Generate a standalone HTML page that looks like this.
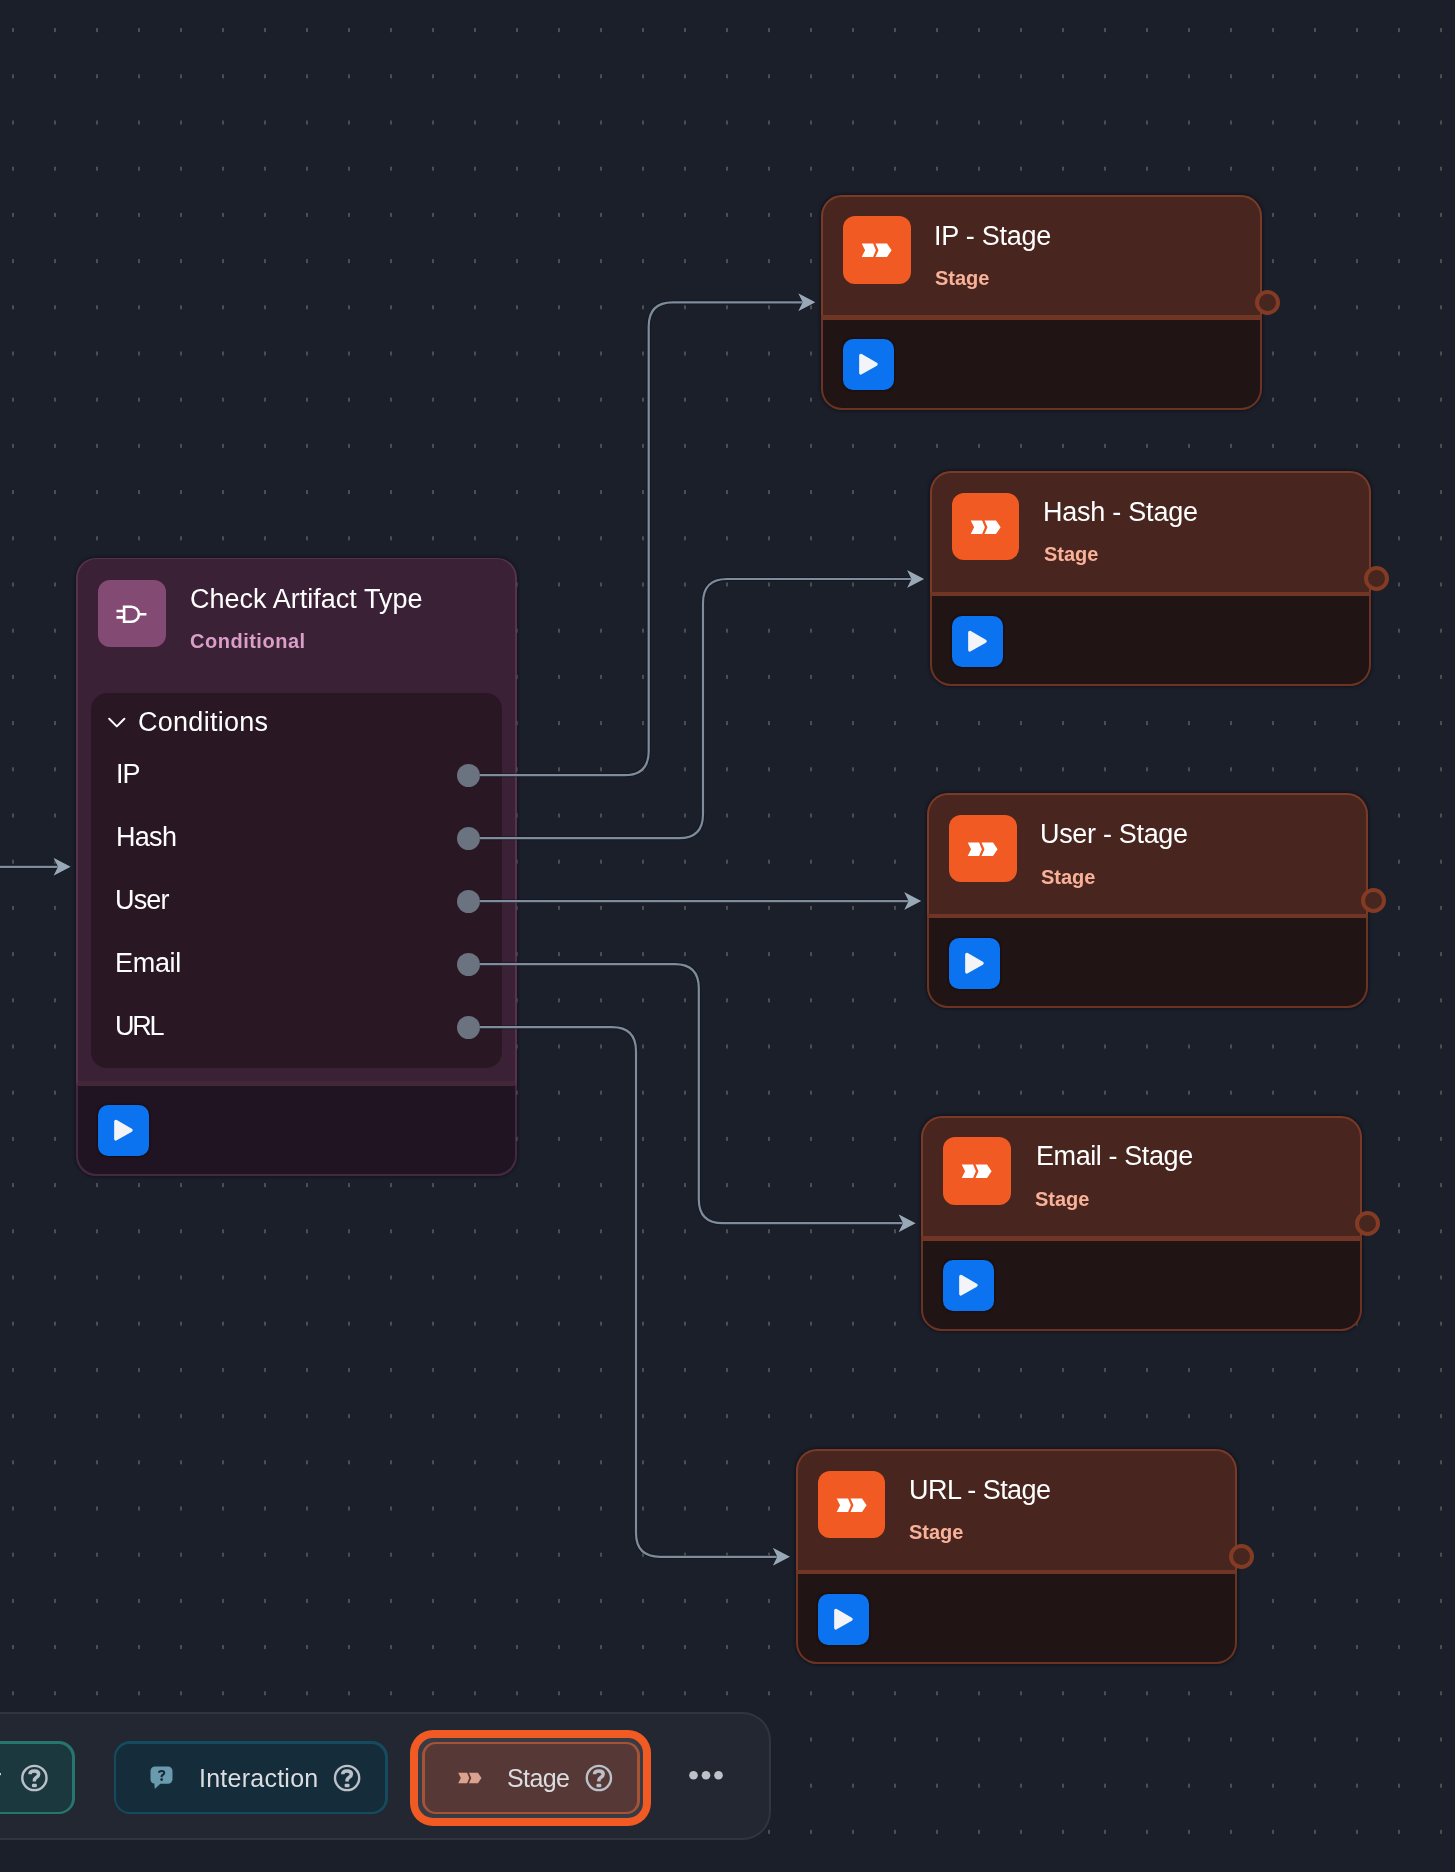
<!DOCTYPE html><html><head><meta charset="utf-8"><title>Workflow</title><style>
*{box-sizing:border-box;margin:0;padding:0}
html,body{width:1455px;height:1872px;overflow:hidden;background:#1b1f2a;font-family:"Liberation Sans",sans-serif;}
#canvas{position:relative;width:1455px;height:1872px;overflow:hidden;background:#1b1f2a}
.abs{position:absolute}
svg{position:absolute;left:0;top:0;overflow:visible}
.t{position:absolute;white-space:nowrap;line-height:1;color:#fff;will-change:transform}
.stage{position:absolute;width:441px;height:215px;border-radius:21px;background:linear-gradient(#7a3a25 0,#7a3a25 122px,#6c3322 126px,#6c3322 100%);box-shadow:0 0 3px 1px rgba(8,10,18,.55)}
.stage .hd{position:absolute;left:2px;top:2px;right:2px;height:119px;background:#48261f;border-radius:19px 19px 0 0}
.stage .ft{position:absolute;left:2px;top:125px;right:2px;bottom:2px;background:#211414;border-radius:0 0 19px 19px}
.stage .div{position:absolute;left:0;right:0;top:120.6px;height:4.2px;background:#713525}
.ico{position:absolute;width:67.5px;height:67.5px;border-radius:12px}
.play{position:absolute;width:51px;height:51px;border-radius:10px;background:#0b72f0;box-shadow:0 0 2px 1px rgba(20,8,8,.6)}
.port{position:absolute;width:25px;height:25px;border-radius:50%;border:4px solid #843b23;background:#47261f}
.cdot{position:absolute;width:23px;height:23px;border-radius:50%;background:#6b7280}
</style></head><body><div id="canvas">
<svg width="1455" height="1872"><defs><pattern id="grid" x="12" y="28.1" width="42" height="46.2" patternUnits="userSpaceOnUse"><rect x="0" y="0" width="2" height="4" fill="#4e4e4c"/></pattern></defs><rect width="1455" height="1872" fill="url(#grid)"/></svg>
<div class="abs" style="left:76.2px;top:557.6px;width:440.7px;height:618px;border-radius:20px;background:linear-gradient(#56324d 0,#56324d 524px,#44283f 529px,#44283f 100%);box-shadow:0 0 3px 1px rgba(8,10,18,.5)">
<div class="abs" style="left:1.6px;top:1.6px;right:1.6px;height:522px;background:#3b2135;border-radius:18.5px 18.5px 0 0"></div>
<div class="abs" style="left:1.6px;right:1.6px;top:523.6px;height:5px;background:#442639"></div>
<div class="abs" style="left:1.6px;top:528.4px;right:1.6px;bottom:1.6px;background:#211422;border-radius:0 0 18.5px 18.5px"></div>
<div class="abs" style="left:14.8px;top:135.4px;width:411px;height:375.5px;background:#2a1724;border-radius:16px"></div>
<div class="ico" style="left:22px;top:22px;background:#834b73"><svg width="67.5" height="67.5" viewBox="0 0 67.5 67.5"><g fill="none" stroke="#fff" stroke-width="2.6"><path d="M26.1 26.7 H33.3 A7.55 7.55 0 0 1 33.3 41.8 H26.1 Z" stroke-linejoin="miter"/><path d="M18.5 31.0 H26.1 M18.5 37.4 H26.1 M40.85 34.25 H48.4"/></g></svg></div>
<div class="t " style="left:113.9px;top:28.74px;font-size:27px;font-weight:400;color:#fff;letter-spacing:0.02px">Check Artifact Type</div>
<div class="t " style="left:113.9px;top:73.27px;font-size:20px;font-weight:700;color:#d99fc9;letter-spacing:0.51px">Conditional</div>
<svg width="441" height="618"><path d="M33.2 160.8 L40.8 168.4 L48.4 160.8" fill="none" stroke="#fff" stroke-width="2" stroke-linecap="round" stroke-linejoin="round"/></svg>
<div class="t " style="left:61.4px;top:151.14px;font-size:27px;font-weight:400;color:#fff;letter-spacing:0.28px">Conditions</div>
<div class="t " style="left:39.6px;top:203.44px;font-size:27px;font-weight:400;color:#fff;letter-spacing:-1.0px">IP</div>
<div class="cdot" style="left:381.2px;top:206.1px"></div>
<div class="t " style="left:39.6px;top:266.44px;font-size:27px;font-weight:400;color:#fff;letter-spacing:-0.7px">Hash</div>
<div class="cdot" style="left:381.2px;top:269.1px"></div>
<div class="t " style="left:39.3px;top:329.34px;font-size:27px;font-weight:400;color:#fff;letter-spacing:-0.83px">User</div>
<div class="cdot" style="left:381.2px;top:332.0px"></div>
<div class="t " style="left:38.7px;top:392.34px;font-size:27px;font-weight:400;color:#fff;letter-spacing:-0.3px">Email</div>
<div class="cdot" style="left:381.2px;top:395.0px"></div>
<div class="t " style="left:39.3px;top:455.44px;font-size:27px;font-weight:400;color:#fff;letter-spacing:-2.3px">URL</div>
<div class="cdot" style="left:381.2px;top:458.1px"></div>
<div class="play" style="left:21.7px;top:547.7px"><svg width="51" height="51" viewBox="0 0 51 51"><path d="M17.9 16.6 L33.0 25.2 L17.9 33.8 Z" fill="#f2f4f7" stroke="#f2f4f7" stroke-width="3.5" stroke-linejoin="round"/></svg></div>
</div>
<svg width="1455" height="1872"><rect x="515" y="565" width="2.2" height="600" fill="url(#grid)" opacity=".75"/></svg>
<svg width="1455" height="1872"><path d="M-5 866.8 L58.7 866.8" fill="none" stroke="#0e121b" stroke-opacity=".5" stroke-width="4"/><path d="M-5 866.8 L58.7 866.8" fill="none" stroke="#7e8c9b" stroke-width="2.2"/><path d="M70.7 866.8 L53.5 857.8 L58.0 866.8 L53.5 875.8 Z" fill="#99a8b6" stroke="#0e121b" stroke-width="1" stroke-opacity=".55" paint-order="stroke"/><path d="M479.5 775.2 L624.7 775.2 Q648.7 775.2 648.7 751.2 L648.7 326.3 Q648.7 302.3 672.7 302.3 L803.4 302.3" fill="none" stroke="#0e121b" stroke-opacity=".5" stroke-width="4"/><path d="M479.5 775.2 L624.7 775.2 Q648.7 775.2 648.7 751.2 L648.7 326.3 Q648.7 302.3 672.7 302.3 L803.4 302.3" fill="none" stroke="#7e8c9b" stroke-width="2.2"/><path d="M815.4 302.3 L798.1999999999999 293.3 L802.6999999999999 302.3 L798.1999999999999 311.3 Z" fill="#99a8b6" stroke="#0e121b" stroke-width="1" stroke-opacity=".55" paint-order="stroke"/><path d="M479.5 838.2 L679.0 838.2 Q703.0 838.2 703.0 814.2 L703.0 603 Q703.0 579 727.0 579 L912.2 579" fill="none" stroke="#0e121b" stroke-opacity=".5" stroke-width="4"/><path d="M479.5 838.2 L679.0 838.2 Q703.0 838.2 703.0 814.2 L703.0 603 Q703.0 579 727.0 579 L912.2 579" fill="none" stroke="#7e8c9b" stroke-width="2.2"/><path d="M924.2 579 L907.0 570.0 L911.5 579 L907.0 588.0 Z" fill="#99a8b6" stroke="#0e121b" stroke-width="1" stroke-opacity=".55" paint-order="stroke"/><path d="M479.5 901.1 L909.3 901.1" fill="none" stroke="#0e121b" stroke-opacity=".5" stroke-width="4"/><path d="M479.5 901.1 L909.3 901.1" fill="none" stroke="#7e8c9b" stroke-width="2.2"/><path d="M921.3 901.1 L904.0999999999999 892.1 L908.5999999999999 901.1 L904.0999999999999 910.1 Z" fill="#99a8b6" stroke="#0e121b" stroke-width="1" stroke-opacity=".55" paint-order="stroke"/><path d="M479.5 964.1 L674.8 964.1 Q698.8 964.1 698.8 988.1 L698.8 1199.2 Q698.8 1223.2 722.8 1223.2 L903.7 1223.2" fill="none" stroke="#0e121b" stroke-opacity=".5" stroke-width="4"/><path d="M479.5 964.1 L674.8 964.1 Q698.8 964.1 698.8 988.1 L698.8 1199.2 Q698.8 1223.2 722.8 1223.2 L903.7 1223.2" fill="none" stroke="#7e8c9b" stroke-width="2.2"/><path d="M915.7 1223.2 L898.5 1214.2 L903.0 1223.2 L898.5 1232.2 Z" fill="#99a8b6" stroke="#0e121b" stroke-width="1" stroke-opacity=".55" paint-order="stroke"/><path d="M479.5 1027.2 L612.0 1027.2 Q636.0 1027.2 636.0 1051.2 L636.0 1532.8 Q636.0 1556.8 660.0 1556.8 L778 1556.8" fill="none" stroke="#0e121b" stroke-opacity=".5" stroke-width="4"/><path d="M479.5 1027.2 L612.0 1027.2 Q636.0 1027.2 636.0 1051.2 L636.0 1532.8 Q636.0 1556.8 660.0 1556.8 L778 1556.8" fill="none" stroke="#7e8c9b" stroke-width="2.2"/><path d="M790 1556.8 L772.8 1547.8 L777.3 1556.8 L772.8 1565.8 Z" fill="#99a8b6" stroke="#0e121b" stroke-width="1" stroke-opacity=".55" paint-order="stroke"/></svg>
<div class="stage" style="left:821.1px;top:194.6px"><div class="hd"></div><div class="div"></div><div class="ft"></div>
<div class="ico" style="left:22px;top:21.5px;background:#f15a22"><svg width="67.5" height="67.5"><path d="M18.70 27.40 L30.10 27.40 L32.90 34.20 L30.10 41.00 L18.70 41.00 L22.10 34.20 Z M32.50 27.40 L44.00 27.40 L48.60 34.20 L44.00 41.00 L32.50 41.00 L35.50 34.20 Z" fill="#fff"/></svg></div>
<div class="play" style="left:21.9px;top:144.7px"><svg width="51" height="51" viewBox="0 0 51 51"><path d="M17.9 16.6 L33.0 25.2 L17.9 33.8 Z" fill="#f2f4f7" stroke="#f2f4f7" stroke-width="3.5" stroke-linejoin="round"/></svg></div>
<div class="port" style="left:433.7px;top:95.1px"></div>
<div class="t " style="left:112.8px;top:28.34px;font-size:27px;font-weight:400;color:#fff;letter-spacing:-0.27px">IP - Stage</div>
<div class="t " style="left:113.7px;top:73.27px;font-size:20px;font-weight:700;color:#f9b299;letter-spacing:0px">Stage</div>
</div>
<div class="stage" style="left:929.9px;top:471.2px"><div class="hd"></div><div class="div"></div><div class="ft"></div>
<div class="ico" style="left:22px;top:21.5px;background:#f15a22"><svg width="67.5" height="67.5"><path d="M18.70 27.40 L30.10 27.40 L32.90 34.20 L30.10 41.00 L18.70 41.00 L22.10 34.20 Z M32.50 27.40 L44.00 27.40 L48.60 34.20 L44.00 41.00 L32.50 41.00 L35.50 34.20 Z" fill="#fff"/></svg></div>
<div class="play" style="left:21.9px;top:144.7px"><svg width="51" height="51" viewBox="0 0 51 51"><path d="M17.9 16.6 L33.0 25.2 L17.9 33.8 Z" fill="#f2f4f7" stroke="#f2f4f7" stroke-width="3.5" stroke-linejoin="round"/></svg></div>
<div class="port" style="left:433.7px;top:95.1px"></div>
<div class="t " style="left:113.4px;top:27.44px;font-size:27px;font-weight:400;color:#fff;letter-spacing:-0.24px">Hash - Stage</div>
<div class="t " style="left:113.7px;top:73.27px;font-size:20px;font-weight:700;color:#f9b299;letter-spacing:0px">Stage</div>
</div>
<div class="stage" style="left:927.1px;top:793.4px"><div class="hd"></div><div class="div"></div><div class="ft"></div>
<div class="ico" style="left:22px;top:21.5px;background:#f15a22"><svg width="67.5" height="67.5"><path d="M18.70 27.40 L30.10 27.40 L32.90 34.20 L30.10 41.00 L18.70 41.00 L22.10 34.20 Z M32.50 27.40 L44.00 27.40 L48.60 34.20 L44.00 41.00 L32.50 41.00 L35.50 34.20 Z" fill="#fff"/></svg></div>
<div class="play" style="left:21.9px;top:144.7px"><svg width="51" height="51" viewBox="0 0 51 51"><path d="M17.9 16.6 L33.0 25.2 L17.9 33.8 Z" fill="#f2f4f7" stroke="#f2f4f7" stroke-width="3.5" stroke-linejoin="round"/></svg></div>
<div class="port" style="left:433.7px;top:95.1px"></div>
<div class="t " style="left:113.0px;top:27.44px;font-size:27px;font-weight:400;color:#fff;letter-spacing:-0.32px">User - Stage</div>
<div class="t " style="left:113.7px;top:73.27px;font-size:20px;font-weight:700;color:#f9b299;letter-spacing:0px">Stage</div>
</div>
<div class="stage" style="left:921.3px;top:1115.6px"><div class="hd"></div><div class="div"></div><div class="ft"></div>
<div class="ico" style="left:22px;top:21.5px;background:#f15a22"><svg width="67.5" height="67.5"><path d="M18.70 27.40 L30.10 27.40 L32.90 34.20 L30.10 41.00 L18.70 41.00 L22.10 34.20 Z M32.50 27.40 L44.00 27.40 L48.60 34.20 L44.00 41.00 L32.50 41.00 L35.50 34.20 Z" fill="#fff"/></svg></div>
<div class="play" style="left:21.9px;top:144.7px"><svg width="51" height="51" viewBox="0 0 51 51"><path d="M17.9 16.6 L33.0 25.2 L17.9 33.8 Z" fill="#f2f4f7" stroke="#f2f4f7" stroke-width="3.5" stroke-linejoin="round"/></svg></div>
<div class="port" style="left:433.7px;top:95.1px"></div>
<div class="t " style="left:114.4px;top:27.44px;font-size:27px;font-weight:400;color:#fff;letter-spacing:-0.41px">Email - Stage</div>
<div class="t " style="left:113.7px;top:73.27px;font-size:20px;font-weight:700;color:#f9b299;letter-spacing:0px">Stage</div>
</div>
<div class="stage" style="left:795.8px;top:1449.2px"><div class="hd"></div><div class="div"></div><div class="ft"></div>
<div class="ico" style="left:22px;top:21.5px;background:#f15a22"><svg width="67.5" height="67.5"><path d="M18.70 27.40 L30.10 27.40 L32.90 34.20 L30.10 41.00 L18.70 41.00 L22.10 34.20 Z M32.50 27.40 L44.00 27.40 L48.60 34.20 L44.00 41.00 L32.50 41.00 L35.50 34.20 Z" fill="#fff"/></svg></div>
<div class="play" style="left:21.9px;top:144.7px"><svg width="51" height="51" viewBox="0 0 51 51"><path d="M17.9 16.6 L33.0 25.2 L17.9 33.8 Z" fill="#f2f4f7" stroke="#f2f4f7" stroke-width="3.5" stroke-linejoin="round"/></svg></div>
<div class="port" style="left:433.7px;top:95.1px"></div>
<div class="t " style="left:113.1px;top:27.44px;font-size:27px;font-weight:400;color:#fff;letter-spacing:-0.55px">URL - Stage</div>
<div class="t " style="left:113.7px;top:73.27px;font-size:20px;font-weight:700;color:#f9b299;letter-spacing:0px">Stage</div>
</div>
<div class="abs" style="left:-40px;top:1711.9px;width:810.8px;height:128.1px;border-radius:28.5px;background:#31353f"></div>
<div class="abs" style="left:-40px;top:1714.1px;width:808.6px;height:123.7px;border-radius:26.3px;background:#232732"></div>
<div class="abs" style="left:-60px;top:1741.4px;width:134.5px;height:72.7px;border-radius:16px;background:#25766f"></div>
<div class="abs" style="left:-60px;top:1743.9px;width:132px;height:67.7px;border-radius:13.5px;background:#1b383e"></div>
<div class="abs" style="left:114px;top:1741.4px;width:273.8px;height:72.7px;border-radius:16px;background:#154b5f"></div>
<div class="abs" style="left:116.4px;top:1743.8px;width:269px;height:67.9px;border-radius:13.6px;background:#152c3a"></div>
<div class="abs" style="left:410px;top:1730px;width:241.2px;height:95.8px;border-radius:23px;background:#f15a22"></div>
<div class="abs" style="left:418px;top:1738px;width:225.2px;height:79.8px;border-radius:15px;background:#373b46"></div>
<div class="abs" style="left:422.3px;top:1741.6px;width:217.3px;height:72.7px;border-radius:13.5px;background:#a55334"></div>
<div class="abs" style="left:424.9px;top:1744.2px;width:212.1px;height:67.5px;border-radius:11px;background:#563836"></div>
<svg width="1455" height="1872"><g transform="translate(34.4 1778)"><circle r="12.1" fill="none" stroke="#bcc0c8" stroke-width="2.4"/><path d="M-4.4 -3.8 C-4.4 -6.1 -2.4 -6.9 0 -6.9 C2.6 -6.9 4.3 -5.6 4.3 -3.7 C4.3 -1.9 3 -1.2 1.6 -0.3 C0.5 0.4 0 1 0 2.2 V3.6" fill="none" stroke="#bcc0c8" stroke-width="3.5" stroke-linecap="butt"/><rect x="-2.5" y="5.7" width="5" height="3.6" rx="1.4" fill="#bcc0c8"/></g><g transform="translate(347.1 1778)"><circle r="12.1" fill="none" stroke="#bcc0c8" stroke-width="2.4"/><path d="M-4.4 -3.8 C-4.4 -6.1 -2.4 -6.9 0 -6.9 C2.6 -6.9 4.3 -5.6 4.3 -3.7 C4.3 -1.9 3 -1.2 1.6 -0.3 C0.5 0.4 0 1 0 2.2 V3.6" fill="none" stroke="#bcc0c8" stroke-width="3.5" stroke-linecap="butt"/><rect x="-2.5" y="5.7" width="5" height="3.6" rx="1.4" fill="#bcc0c8"/></g><g transform="translate(598.9 1778)"><circle r="12.1" fill="none" stroke="#bcc0c8" stroke-width="2.4"/><path d="M-4.4 -3.8 C-4.4 -6.1 -2.4 -6.9 0 -6.9 C2.6 -6.9 4.3 -5.6 4.3 -3.7 C4.3 -1.9 3 -1.2 1.6 -0.3 C0.5 0.4 0 1 0 2.2 V3.6" fill="none" stroke="#bcc0c8" stroke-width="3.5" stroke-linecap="butt"/><rect x="-2.5" y="5.7" width="5" height="3.6" rx="1.4" fill="#bcc0c8"/></g><path d="M155 1766.5 H168 A4.5 4.5 0 0 1 172.5 1771 V1779.2 A4.5 4.5 0 0 1 168 1783.7 H160.3 L154.8 1788.9 L154.3 1783.6 A4.5 4.5 0 0 1 150.5 1779.2 V1771 A4.5 4.5 0 0 1 155 1766.5 Z" fill="#6a9aad"/><g transform="translate(161.65 1775.1) scale(0.6)"><path d="M-4.4 -3.8 C-4.4 -6.1 -2.4 -6.9 0 -6.9 C2.6 -6.9 4.3 -5.6 4.3 -3.7 C4.3 -1.9 3 -1.2 1.6 -0.3 C0.5 0.4 0 1 0 2.2 V3.6" fill="none" stroke="#13283a" stroke-width="3.5"/><circle cx="0" cy="7.4" r="2.3" fill="#13283a"/></g><path d="M458.19 1772.70 L467.08 1772.70 L469.27 1778.00 L467.08 1783.30 L458.19 1783.30 L460.84 1778.00 Z M468.95 1772.70 L477.92 1772.70 L481.51 1778.00 L477.92 1783.30 L468.95 1783.30 L471.29 1778.00 Z" fill="#dba28e"/><circle cx="693.5" cy="1775.3" r="4.3" fill="#bfc1c9"/><circle cx="706.0" cy="1775.3" r="4.3" fill="#bfc1c9"/><circle cx="718.5" cy="1775.3" r="4.3" fill="#bfc1c9"/></svg>
<div class="t " style="left:198.6px;top:1766.34px;font-size:25px;font-weight:400;color:#dcdde0;letter-spacing:0.25px">Interaction</div>
<div class="t " style="left:506.8px;top:1766.34px;font-size:25px;font-weight:400;color:#dcdde0;letter-spacing:-0.6px">Stage</div>
<div class="t " style="left:-7.5px;top:1766.34px;font-size:25px;font-weight:400;color:#dcdde0;letter-spacing:0px">r</div>
</div></body></html>
